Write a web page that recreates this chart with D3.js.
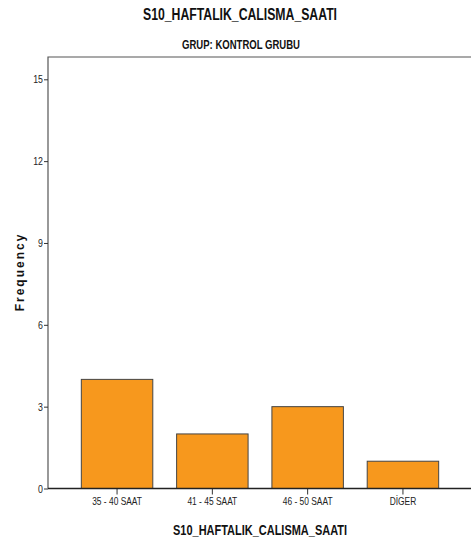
<!DOCTYPE html>
<html><head><meta charset="utf-8">
<script src="https://cdn.jsdelivr.net/npm/d3@7"></script>
<style>
body{margin:0;background:#fff;}
svg{display:block;}
.narrow{font-family:"Liberation Sans Narrow","Arial Narrow","Liberation Sans",Arial,sans-serif;}
</style></head>
<body>
<svg id="chart" width="471" height="545"></svg>
<script>
const categories = ["35 - 40 SAAT", "41 - 45 SAAT", "46 - 50 SAAT", "DİGER"];
const frequencies = [4, 2, 3, 1];
const yTicks = [0, 3, 6, 9, 12, 15];
const title = "S10_HAFTALIK_CALISMA_SAATI";
const subtitle = "GRUP: KONTROL GRUBU";
const xTitle = "S10_HAFTALIK_CALISMA_SAATI";
const yTitle = "Frequency";

(function(){
const svg = d3.select("#chart");
const pLeft = 48, pTop = 57, pRight = 471, pBottom = 488.5;

function condense(sel, factor) {
  sel.each(function() {
    const len = this.getComputedTextLength();
    d3.select(this).attr("textLength", len * factor).attr("lengthAdjust", "spacingAndGlyphs");
  });
}

const y = d3.scaleLinear().domain([0, 15]).range([pBottom, 79.3]);
const x = d3.scaleBand().domain(categories).range([57.5, 462.5]).padding(0.25);

// frame
svg.append("path")
  .attr("d", `M${pLeft},${pBottom}V${pTop}H${pRight}`)
  .attr("fill", "none").attr("stroke", "#555").attr("stroke-width", 1.2);

// bars
svg.selectAll("rect.bar").data(frequencies).join("rect")
  .attr("class", "bar")
  .attr("x", (d, i) => x(categories[i]))
  .attr("y", d => y(d))
  .attr("width", x.bandwidth())
  .attr("height", d => y(0) - y(d))
  .attr("fill", "#f7981d")
  .attr("stroke", "#444").attr("stroke-width", 1);

// y axis
const yAxis = svg.append("g").attr("transform", `translate(${pLeft},0)`)
  .call(d3.axisLeft(y).tickValues(yTicks).tickSize(4).tickPadding(1));
yAxis.select(".domain").remove();
yAxis.selectAll("line").attr("stroke", "#333");
yAxis.selectAll("text").attr("class", "narrow").attr("font-size", 11).attr("fill", "#222");
condense(yAxis.selectAll("text"), 0.8);

// x axis
const xAxis = svg.append("g").attr("transform", `translate(0,${pBottom})`)
  .call(d3.axisBottom(x).tickSize(6).tickPadding(3));
xAxis.select(".domain").remove();
xAxis.selectAll("line").attr("stroke", "#333");
xAxis.selectAll("text").attr("class", "narrow").attr("font-size", 10.5).attr("fill", "#222");
condense(xAxis.selectAll("text"), 0.8);
svg.append("line").attr("x1", pLeft).attr("x2", pRight).attr("y1", pBottom).attr("y2", pBottom)
  .attr("stroke", "#222").attr("stroke-width", 1.3);

// titles
svg.append("text").attr("class", "narrow").attr("x", 240).attr("y", 20)
  .attr("text-anchor", "middle").attr("font-size", 16).attr("font-weight", "bold").attr("fill", "#111")
  .attr("textLength", 194).attr("lengthAdjust", "spacingAndGlyphs")
  .text(title);
svg.append("text").attr("class", "narrow").attr("x", 241).attr("y", 49)
  .attr("text-anchor", "middle").attr("font-size", 12).attr("font-weight", "bold").attr("fill", "#111")
  .attr("textLength", 118).attr("lengthAdjust", "spacingAndGlyphs")
  .text(subtitle);
svg.append("text").attr("class", "narrow").attr("x", 260).attr("y", 535)
  .attr("text-anchor", "middle").attr("font-size", 15).attr("font-weight", "bold").attr("fill", "#111")
  .attr("textLength", 174).attr("lengthAdjust", "spacingAndGlyphs")
  .text(xTitle);
svg.append("text").attr("transform", "translate(24,272) rotate(-90)")
  .attr("text-anchor", "middle").attr("font-family", "Liberation Sans, Arial, sans-serif")
  .attr("font-size", 12).attr("font-weight", "bold").attr("letter-spacing", 2).attr("fill", "#111")
  .text(yTitle);
})();
</script>
</body></html>
